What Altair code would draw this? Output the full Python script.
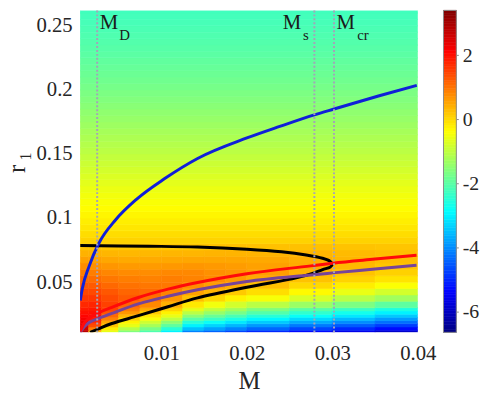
import altair as alt
import pandas as pd

F = "Liberation Serif, Times New Roman, serif"
TXT = "#262626"

# ---------------- colour map data ----------------
# column edges in M for the lower, M-dependent part of the map
M_edges = [0.0005, 0.0015, 0.003, 0.005, 0.0075, 0.01, 0.0125, 0.015, 0.0175,
           0.02, 0.025, 0.03, 0.035, 0.04]
# row edges in r1 for the lower part
r_edges_low = [0.0108, 0.0125, 0.015, 0.0175, 0.02, 0.0225, 0.025, 0.0275, 0.03,
               0.035, 0.04, 0.045, 0.05, 0.055, 0.06, 0.065, 0.07, 0.075, 0.08]
# values, bottom row first, one entry per M column
low_vals = [
    [2.8, 0.3, -0.6, -1.6, -2.1, -3.0, -4.1, -4.4, -4.7, -5.0, -5.3, -5.6, -5.9],
    [2.65, 0.9, -0.2, -1.1, -1.7, -2.5, -3.5, -3.8, -4.1, -4.4, -4.7, -5.0, -5.3],
    [2.5, 1.4, 0.2, -0.6, -1.25, -1.95, -3.0, -3.3, -3.6, -3.9, -4.2, -4.5, -4.8],
    [2.35, 1.7, 0.5, -0.25, -0.85, -1.5, -2.5, -2.8, -3.1, -3.4, -3.7, -4.0, -4.3],
    [2.22, 1.9, 0.85, 0.05, -0.45, -1.0, -2.0, -2.3, -2.6, -2.95, -3.25, -3.55, -3.85],
    [2.1, 2.0, 1.1, 0.35, -0.15, -0.6, -1.5, -1.85, -2.15, -2.5, -2.8, -3.1, -3.4],
    [1.98, 2.0, 1.3, 0.65, 0.15, -0.25, -1.05, -1.4, -1.7, -2.05, -2.4, -2.7, -3.0],
    [1.88, 1.9, 1.45, 0.9, 0.45, 0.05, -0.65, -1.0, -1.3, -1.65, -2.0, -2.3, -2.6],
    [1.75, 1.78, 1.5, 1.15, 0.8, 0.4, -0.15, -0.5, -0.8, -1.05, -1.35, -1.65, -1.95],
    [1.6, 1.6, 1.4, 1.25, 1.05, 0.65, 0.25, 0.0, -0.25, -0.45, -0.75, -1.05, -1.3],
    [1.45, 1.42, 1.28, 1.15, 1.1, 0.85, 0.55, 0.35, 0.15, -0.05, -0.32, -0.58, -0.8],
    [1.28, 1.25, 1.12, 1.02, 0.97, 0.97, 0.75, 0.58, 0.45, 0.25, 0.0, -0.2, -0.4],
    [1.1, 1.08, 0.97, 0.9, 0.86, 0.9, 0.85, 0.75, 0.62, 0.45, 0.22, 0.05, -0.1],
    [0.92, 0.9, 0.82, 0.77, 0.75, 0.8, 0.8, 0.72, 0.68, 0.58, 0.38, 0.22, 0.08],
    [0.74, 0.72, 0.66, 0.62, 0.61, 0.64, 0.66, 0.63, 0.6, 0.56, 0.45, 0.32, 0.2],
    [0.56, 0.55, 0.5, 0.47, 0.47, 0.49, 0.5, 0.5, 0.5, 0.48, 0.42, 0.35, 0.27],
    [0.39, 0.38, 0.35, 0.33, 0.33, 0.35, 0.35, 0.37, 0.37, 0.37, 0.35, 0.3, 0.26],
    [0.23, 0.22, 0.2, 0.19, 0.19, 0.2, 0.2, 0.23, 0.24, 0.24, 0.24, 0.22, 0.2],
]
# upper part: bands that do not change with M
r_edges_up = [0.08, 0.085, 0.09, 0.095, 0.10, 0.105, 0.11, 0.115, 0.12, 0.125,
              0.13, 0.135, 0.14, 0.145, 0.15, 0.155, 0.16, 0.165, 0.17, 0.175,
              0.18, 0.185, 0.19, 0.195, 0.20, 0.205, 0.21, 0.215, 0.22, 0.225,
              0.23, 0.235, 0.24, 0.245, 0.25, 0.255, 0.26, 0.262]
up_vals = [0.06, -0.04, -0.13, -0.21, -0.28, -0.35, -0.42, -0.49, -0.56, -0.64,
           -0.72, -0.80, -0.88, -0.96, -1.04, -1.11, -1.18, -1.25, -1.32, -1.39,
           -1.46, -1.53, -1.60, -1.66, -1.72, -1.78, -1.83, -1.88, -1.93, -1.98,
           -2.02, -2.06, -2.10, -2.14, -2.18, -2.21, -2.24]

# ---------------- curves ----------------
blue_M = [0.00052, 0.00075, 0.00156, 0.00271, 0.00464, 0.00709, 0.0104, 0.01424,
          0.02001, 0.02385, 0.02789, 0.0302, 0.03539, 0.03988]
blue_r = [0.0356, 0.0446, 0.0625, 0.0805, 0.0985, 0.1146, 0.1308, 0.1465,
          0.1625, 0.1715, 0.1805, 0.1851, 0.1952, 0.2035]

red_M = [0.00052, 0.00098, 0.00156, 0.00271, 0.00421, 0.00732, 0.01078, 0.01424,
         0.02001, 0.0275, 0.03005, 0.035, 0.03985]
red_r = [0.0115, 0.018, 0.022, 0.0262, 0.0303, 0.038, 0.0445, 0.0497,
         0.0566, 0.0627, 0.0648, 0.068, 0.071]
purple_M = red_M
purple_r = [0.0108, 0.0152, 0.0185, 0.0218, 0.0256, 0.033, 0.039, 0.044,
            0.0505, 0.0556, 0.0572, 0.0602, 0.0632]

black_M = [0.00052, 0.0085, 0.01424, 0.02001, 0.02405, 0.02694, 0.02886, 0.02975,
           0.0300, 0.02975, 0.02886, 0.0277, 0.02578, 0.02001, 0.01424, 0.01078,
           0.00732, 0.00421, 0.00271, 0.00167]
black_r = [0.0785, 0.0780, 0.0774, 0.0757, 0.0737, 0.0712, 0.0686, 0.0662,
           0.0640, 0.0617, 0.0598, 0.0568, 0.0533, 0.0460, 0.0377, 0.0308,
           0.0238, 0.0177, 0.0138, 0.0108]

vline_M = [0.0025, 0.0279, 0.0302]   # M_D, M_s, M_cr

x_ticks = [0.01, 0.02, 0.03, 0.04]
y_ticks = [0.05, 0.1, 0.15, 0.2, 0.25]
cbar_ticks = [-6, -4, -2, 0, 2]
cbar_range = [-6.65, 3.4]

# ---------------- build tables ----------------
cells = []
for i, row in enumerate(low_vals):
    for j, v in enumerate(row):
        cells.append(dict(m0=M_edges[j], m1=M_edges[j + 1],
                          r0=r_edges_low[i], r1=r_edges_low[i + 1], v=v))
for i, v in enumerate(up_vals):
    cells.append(dict(m0=M_edges[0], m1=M_edges[-1],
                      r0=r_edges_up[i], r1=r_edges_up[i + 1], v=v))
heat_df = pd.DataFrame(cells)

# colour bar: the scale's own range split in thin slices
n_cb = 120
step = (cbar_range[1] - cbar_range[0]) / n_cb
cb_df = pd.DataFrame({
    "c0": [cbar_range[0] + k * step for k in range(n_cb)],
    "c1": [cbar_range[0] + (k + 1) * step for k in range(n_cb)],
    "v": [cbar_range[0] + (k + 0.5) * step for k in range(n_cb)],
})


def curve_df(ms, rs):
    return pd.DataFrame({"M": ms, "r": rs, "i": list(range(len(ms)))})


xs = alt.Scale(domain=[0.0005, 0.04], nice=False, zero=False)
ys = alt.Scale(domain=[0.0108, 0.262], nice=False, zero=False)
cs = alt.Scale(domain=[-6.65, -5.39, -2.88, -0.37, 2.14, 3.4],
               range=["#000080", "#0000ff", "#00ffff", "#ffff00", "#ff0000", "#800000"],
               interpolate="rgb")
cbs = alt.Scale(domain=cbar_range, nice=False, zero=False)

xaxis = alt.Axis(values=x_ticks, format=".2f", title="M", titleX=171, titleY=57,
                 titleBaseline="alphabetic", titleAlign="center", titleFont=F,
                 titleFontSize=25, titleFontWeight="normal", titleColor=TXT,
                 labelFont=F, labelFontSize=21, labelColor=TXT, labelPadding=10,
                 labelFlush=False, ticks=False, domain=False, grid=False)
yaxis = alt.Axis(orient="left", values=y_ticks, format="~g", title="r",
                 titleAngle=270, titleX=-56, titleY=160, titleBaseline="alphabetic",
                 titleAlign="center", titleFont=F, titleFontSize=25,
                 titleFontWeight="normal", titleColor=TXT, labelFont=F,
                 labelFontSize=21, labelColor=TXT, labelPadding=8, labelFlush=False,
                 ticks=False, domain=False, grid=False)
cbaxis = alt.Axis(orient="right", offset=39, values=cbar_ticks, title=None,
                  labelExpr="'' + datum.value", labelFont=F, labelFontSize=20,
                  labelColor=TXT, labelPadding=4, labelFlush=False, ticks=True,
                  tickSize=2, tickColor="#8a8a8a", tickWidth=1,
                  domain=False, grid=False)

heat = alt.Chart(heat_df).mark_rect(clip=True, strokeWidth=0.6).encode(
    x=alt.X("m0:Q", scale=xs, axis=xaxis),
    x2="m1:Q",
    y=alt.Y("r0:Q", scale=ys, axis=yaxis),
    y2="r1:Q",
    fill=alt.Fill("v:Q", scale=cs, legend=None),
    stroke=alt.Stroke("v:Q", scale=cs, legend=None),
)


def line(df, color, interp):
    return alt.Chart(df).mark_line(clip=True, strokeWidth=3, color=color,
                                   interpolate=interp).encode(
        x=alt.X("M:Q", scale=xs, axis=xaxis),
        y=alt.Y("r:Q", scale=ys, axis=yaxis),
        order="i:Q",
    )


black = line(curve_df(black_M, black_r), "#000000", "catmull-rom")
blue = line(curve_df(blue_M, blue_r), "#1020d8", "monotone")
purple = line(curve_df(purple_M, purple_r), "#774499", "monotone")
red = line(curve_df(red_M, red_r), "#ff0a0a", "monotone")

rules = alt.Chart(pd.DataFrame({"M": vline_M})).mark_rule(
    strokeDash=[2, 2], strokeWidth=2, color="#a4a4b8").encode(
    x=alt.X("M:Q", scale=xs, axis=xaxis))


def label(m, text, dx, ypix, size):
    return alt.Chart(pd.DataFrame({"M": [m], "t": [text]})).mark_text(
        align="left", baseline="alphabetic", dx=dx, font=F, fontSize=size,
        color="#1a1a1a").encode(
        x=alt.X("M:Q", scale=xs, axis=xaxis), y=alt.value(ypix), text="t:N")


labels = [
    label(vline_M[0], "M", 2.7, 19, 21), label(vline_M[0], "D", 22.4, 29.5, 15),
    label(vline_M[1], "M", -32, 19, 21), label(vline_M[1], "s", -11.5, 30, 15),
    label(vline_M[2], "M", 2.5, 19, 21), label(vline_M[2], "cr", 23.5, 30, 15),
]

sub1 = alt.Chart(pd.DataFrame({"t": ["1"]})).mark_text(
    angle=270, align="center", baseline="alphabetic", font=F, fontSize=16,
    color=TXT).encode(x=alt.value(-50), y=alt.value(148), text="t:N")

main = alt.layer(heat, black, blue, purple, red, rules, *labels, sub1)

cbar = alt.Chart(cb_df).mark_rect(strokeWidth=0.6).encode(
    x=alt.value(368), x2=alt.value(381),
    y=alt.Y("c0:Q", scale=cbs, axis=cbaxis),
    y2="c1:Q",
    fill=alt.Fill("v:Q", scale=cs, legend=None),
    stroke=alt.Stroke("v:Q", scale=cs, legend=None),
)
cbar_frame = alt.Chart(pd.DataFrame({"a": [cbar_range[0]], "b": [cbar_range[1]]})).mark_rect(
    fillOpacity=0, stroke="#8a8a8a", strokeWidth=1).encode(
    x=alt.value(368), x2=alt.value(381),
    y=alt.Y("a:Q", scale=cbs, axis=cbaxis), y2="b:Q")

chart = alt.layer(main, alt.layer(cbar, cbar_frame)).resolve_scale(
    y="independent").properties(
    width=342, height=326,
    autosize=alt.AutoSizeParams(type="none"),
    padding={"left": 73, "top": 0, "right": 66, "bottom": 64},
).configure_view(strokeWidth=0)

chart.save("out.html", embed_options={"renderer": "svg", "actions": False})
